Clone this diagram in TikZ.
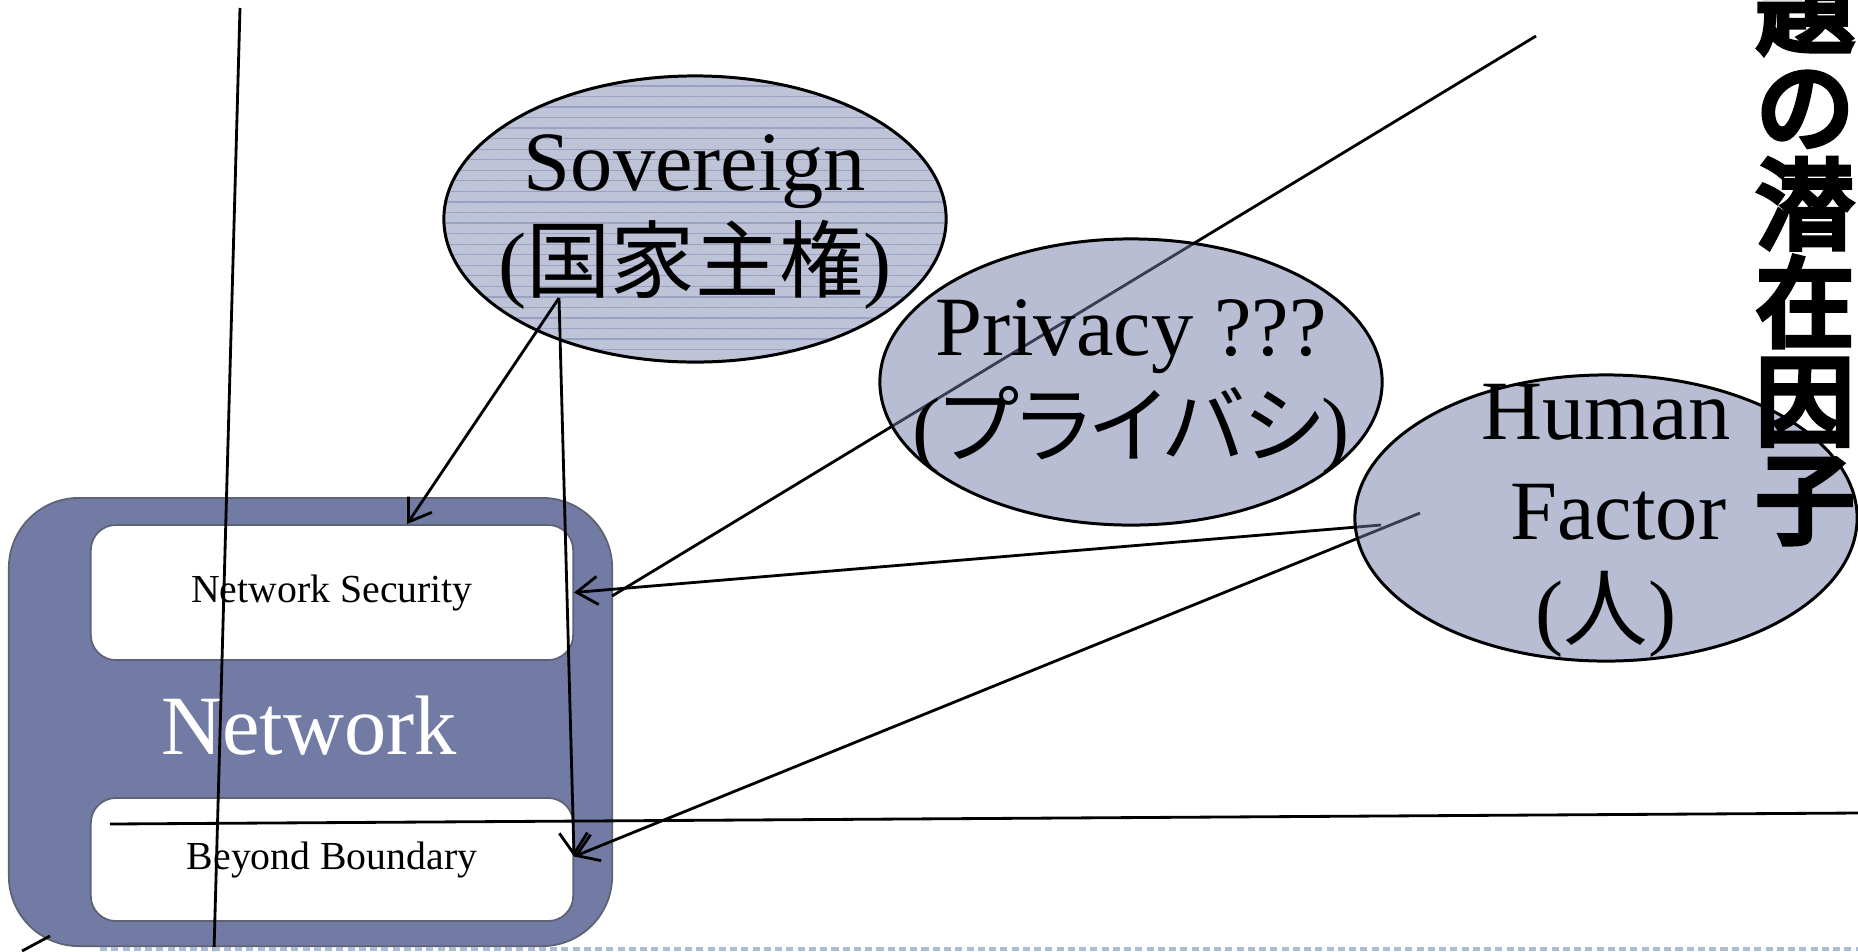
\documentclass[tikz,border=0pt]{standalone}
\usepackage{fontspec}
\setmainfont{Liberation Serif}
\newfontfamily\jp{Noto Sans CJK JP}
\newfontfamily\jpp[RawFeature=+palt]{Noto Sans CJK JP}
\newfontfamily\jpb[FakeBold=6]{Noto Sans CJK JP}
\usetikzlibrary{shapes.geometric,arrows.meta,patterns.meta,calc}
\definecolor{netc}{HTML}{717BA4}
\definecolor{ellc}{HTML}{717BA7}
\definecolor{sovfill}{HTML}{BEC3D8}
\definecolor{sovline}{HTML}{9AA2C4}
\definecolor{dashc}{HTML}{A9BDD3}
\definecolor{edgec}{HTML}{5F6275}
\tikzset{
  conn/.style={line width=0.8pt, black},
  arr/.style={conn, -{Straight Barb[length=6pt,width=8pt]}},
  bigtext/.style={font=\fontsize{24}{28.5}\selectfont, align=center, inner sep=0pt},
  smalltext/.style={font=\fontsize{11.3}{13.6}\selectfont},
  ell/.style={ellipse, draw=black, line width=0.85pt, minimum width=5.02cm, minimum height=2.86cm, inner sep=0pt},
  innerbox/.style={rectangle, rounded corners=0.25cm, fill=white, draw=edgec, line width=0.5pt,
     minimum width=4.82cm, smalltext},
  dashline/.style={dashc, line width=1pt, dash pattern=on 2pt off 1.2pt}
}
\begin{document}
\begin{tikzpicture}[x=0.01cm,y=-0.01cm]
\useasboundingbox (0,0) rectangle (1858,951);
\clip (0,0) rectangle (1858,951);

% Network block
\node[rectangle, rounded corners=0.7cm, fill=netc, draw=edgec, line width=0.5pt,
      minimum width=6.03cm, minimum height=4.48cm] (net) at (310.5,722) {};
\node[innerbox, minimum height=1.35cm] (ns) at (332,592.5) {Network Security};
\node[innerbox, minimum height=1.23cm] (bb) at (332,859.5) {Beyond Boundary};
\node[bigtext, text=white] (netl) at (309,726) {Network};

% Sovereign ellipse (under the connectors)
\node[ell, preaction={fill=sovfill},
      pattern={Lines[angle=0,distance=3pt,line width=0.35pt]}, pattern color=sovline] (sov) at (695,219) {};
\node[bigtext] (sovt) at (695,222) {Sovereign\\({\jp 国家主権})};

% free ends of connectors
\coordinate (a1) at (240,8);
\coordinate (a2) at (214,951);
\coordinate (s0) at (559,298);
\coordinate (p0) at (1536,36);
\coordinate (p1) at (612,596);
\coordinate (h1) at (1381,525);
\coordinate (h2) at (1420,513);
\coordinate (hl0) at (110,824);
\coordinate (hl1) at (1858,813);
\coordinate (bl0) at (50,936);
\coordinate (bl1) at (22,951);
\coordinate (d0) at (100,949);
\coordinate (d1) at (1858,949);

% connectors
\draw[conn] (a1) -- (a2);
\draw[arr] (s0) -- ($(ns.north)+(75,0)$);
\draw[arr] (s0) -- ($(bb.east)+(0,-3)$);
\draw[conn] (p0) -- (p1);
\draw[arr] (h1) -- (ns.east);
\draw[arr] (h2) -- ($(bb.east)+(0,-3)$);
\draw[conn] (hl0) -- (hl1);
\draw[conn] (bl0) -- (bl1);
\draw[dashline] (d0) -- (d1);

% semi-transparent ellipses over the connectors
\node[ell, fill=ellc, fill opacity=0.5, draw opacity=1] (priv) at (1131,382) {};
\node[bigtext] (privt) at (1131,387) {Privacy ???\\({\jpp プライバシ})};
\node[ell, fill=ellc, fill opacity=0.5, draw opacity=1] (hum) at (1606,518) {};
\node[bigtext] (humt) at (1606,521) {Human\\\hspace*{7pt}Factor\\({\jp 人})};

% vertical title (its first character runs off the top edge, as in the reference)
\node[font=\jpb\fontsize{28}{27.9}\selectfont, align=center, inner sep=0pt] (title) at (1805,255)
  {題\\の\\潜\\在\\因\\子};
\end{tikzpicture}
\end{document}
